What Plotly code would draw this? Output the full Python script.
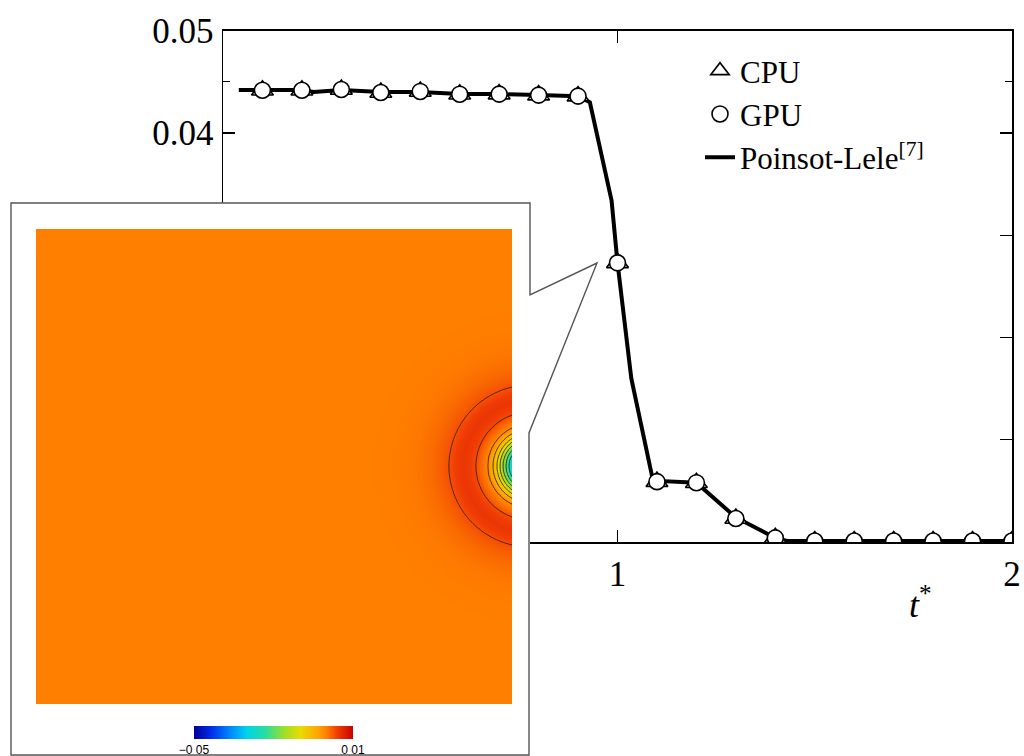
import numpy as np
import plotly.graph_objects as go

# ---------------- main chart data ----------------
t_samples = [0.1, 0.2, 0.3, 0.4, 0.5, 0.6, 0.7, 0.8, 0.9, 1.0,
             1.1, 1.2, 1.3, 1.4, 1.5, 1.6, 1.7, 1.8, 1.9, 2.0]
cpu_values = [0.04418, 0.04418, 0.04425, 0.04396, 0.04406, 0.04379, 0.04380, 0.04370, 0.04360, 0.02730,
              0.00590, 0.00580, 0.00230, 0.00040, 0.00010, 0.00010, 0.00010, 0.00010, 0.00010, 0.00010]
gpu_values = [0.04418, 0.04418, 0.04425, 0.04396, 0.04406, 0.04379, 0.04380, 0.04370, 0.04360, 0.02730,
              0.00590, 0.00580, 0.00230, 0.00040, 0.00010, 0.00010, 0.00010, 0.00010, 0.00010, 0.00010]

t_ref = [0.04, 0.1, 0.2, 0.23, 0.3, 0.4, 0.5, 0.6, 0.7, 0.8, 0.9, 0.93, 0.985, 1.0,
         1.035, 1.09, 1.2, 1.3, 1.4, 1.43, 2.0]
ref_values = [0.0442, 0.0442, 0.0442, 0.0440, 0.0442, 0.0440, 0.0440, 0.0438, 0.0438, 0.0437, 0.0436, 0.0430,
              0.0334, 0.0273, 0.0160, 0.0060, 0.0058, 0.0024, 0.0004, 0.0001, 0.0001]

x_tick_vals = [0, 1, 2]
x_tick_text = ["0", "1", "2"]
y_tick_vals = [0.0, 0.01, 0.02, 0.03, 0.04, 0.05]
y_tick_text = ["0", "0.01", "0.02", "0.03", "0.04", "0.05"]
y_minor_vals = [0.045]

series_names = ["CPU", "GPU", "Poinsot-Lele<sup>[7]</sup>"]
x_title = "<i>t</i><sup>*</sup>"

# ---------------- inset field data (radial profile of the pulse) ----------------
pulse_center = (1.038, 0.501)
profile_r_px = [0, 10, 18, 21, 24, 27, 30, 33, 37, 42, 48, 54, 60, 67, 74, 81, 90, 100, 115, 140, 200, 760]
profile_val = [-0.046, -0.039, -0.029, -0.025, -0.021, -0.017, -0.013, -0.009, -0.005, -0.001, 0.001,
               0.003, 0.0042, 0.0048, 0.0042, 0.003, 0.002, 0.0012, 0.0005, 0.0001, 0.0, 0.0]
inset_px = 476.0
field_min, field_max = -0.05, 0.01
contour_start, contour_end, contour_step = -0.045, 0.003, 0.004
cbar_tick_vals = [-0.05, 0.01]
cbar_tick_text = ["\u22120 05", "0 01"]

jet_like = [
    [0.0, "rgb(0,0,150)"],
    [0.1, "rgb(0,40,230)"],
    [0.22, "rgb(0,130,255)"],
    [0.33, "rgb(0,210,235)"],
    [0.45, "rgb(40,222,160)"],
    [0.57, "rgb(160,222,40)"],
    [0.67, "rgb(232,220,0)"],
    [0.78, "rgb(255,165,0)"],
    [0.833, "rgb(255,128,0)"],
    [0.9, "rgb(240,62,5)"],
    [1.0, "rgb(200,0,0)"],
]

grid_x = np.linspace(0, 1, 301)
grid_y = np.linspace(0, 1, 301)
GX, GY = np.meshgrid(grid_x, grid_y)
R = np.hypot(GX - pulse_center[0], GY - pulse_center[1])
field = np.interp(R, np.array(profile_r_px) / inset_px, profile_val)

W, H = 1024, 756


def px(x):
    return x / W


def py(y):
    return 1 - y / H


SERIF = "Liberation Serif"

fig = go.Figure()

# main plot traces (xy)
fig.add_trace(go.Scatter(x=t_ref, y=ref_values, mode="lines", name=series_names[2],
                         line=dict(color="black", width=4), legendrank=3))
fig.add_trace(go.Scatter(x=t_samples, y=cpu_values, mode="markers", name=series_names[0],
                         marker=dict(symbol="triangle-up", size=19, color="white",
                                     line=dict(color="black", width=1.6)), legendrank=1))
fig.add_trace(go.Scatter(x=t_samples, y=gpu_values, mode="markers", name=series_names[1],
                         marker=dict(symbol="circle", size=16, color="white",
                                     line=dict(color="black", width=1.6)), legendrank=2))

# inset white box (x2y2) - empty placeholder trace to create the subplot
fig.add_trace(go.Scatter(x=[], y=[], xaxis="x2", yaxis="y2", showlegend=False, hoverinfo="skip"))

# inset field (x3y3)
fig.add_trace(go.Heatmap(x=grid_x, y=grid_y, z=field, xaxis="x3", yaxis="y3",
                         colorscale=jet_like, zmin=field_min, zmax=field_max, zsmooth="best",
                         hoverinfo="skip",
                         colorbar=dict(orientation="h", x=px((194 + 353) / 2), xanchor="center",
                                       y=py(726), yanchor="top", len=159, lenmode="pixels",
                                       thickness=13, xpad=0, ypad=0, outlinewidth=0,
                                       tickvals=cbar_tick_vals, ticktext=cbar_tick_text,
                                       ticks="", tickfont=dict(family="Liberation Sans", size=12,
                                                               color="black"))))
fig.add_trace(go.Contour(x=grid_x, y=grid_y, z=field, xaxis="x3", yaxis="y3",
                         contours=dict(start=contour_start, end=contour_end, size=contour_step,
                                       coloring="none"),
                         line=dict(color="rgba(45,20,10,0.9)", width=0.9),
                         showscale=False, hoverinfo="skip", showlegend=False))

axis_common = dict(showgrid=False, zeroline=False, showline=True, linecolor="black", linewidth=1.5,
                   ticks="inside", ticklen=12, tickwidth=1.3, tickcolor="black", mirror="ticks",
                   automargin=False,
                   tickfont=dict(family=SERIF, size=35, color="black"))
hidden_axis = dict(range=[0, 1], visible=False, automargin=False)

fig.update_layout(
    width=W, height=H,
    margin=dict(l=0, r=0, t=0, b=0, pad=0, autoexpand=False),
    paper_bgcolor="white", plot_bgcolor="white",
    showlegend=True,
    hovermode=False,
    xaxis=dict(domain=[px(223), px(1012)], range=[0, 2], tickvals=x_tick_vals, ticktext=x_tick_text,
               ticklabelstandoff=0, anchor="y", **axis_common),
    yaxis=dict(domain=[py(542), py(30.7)], range=[0, 0.05], tickvals=y_tick_vals, ticktext=y_tick_text,
               ticklabelstandoff=1, anchor="x",
               minor=dict(tickvals=y_minor_vals, ticks="inside", ticklen=7, tickcolor="black"),
               **axis_common),
    xaxis2=dict(domain=[px(11), px(530)], anchor="y2", **hidden_axis),
    yaxis2=dict(domain=[py(755), py(203)], anchor="x2", **hidden_axis),
    xaxis3=dict(domain=[px(36), px(512)], anchor="y3", **hidden_axis),
    yaxis3=dict(domain=[py(704), py(229)], anchor="x3", **hidden_axis),
    legend=dict(x=px(700), y=py(44), xanchor="left", yanchor="top", bgcolor="rgba(0,0,0,0)",
                font=dict(family=SERIF, size=31, color="black"), tracegroupgap=0),
)

# x axis title
fig.add_annotation(text=x_title, xref="paper", yref="paper", x=px(920), y=py(602),
                   xanchor="center", yanchor="middle", showarrow=False,
                   font=dict(family=SERIF, size=36, color="black"))

# inset border with callout
path_pts = [(11, 203), (530, 203), (530, 295), (597, 263), (529, 433), (529, 755), (11, 755)]
path = "M " + " L ".join(f"{px(x):.5f},{py(y):.5f}" for x, y in path_pts) + " Z"
fig.add_shape(type="path", path=path, xref="paper", yref="paper",
              line=dict(color="#555555", width=1.4), fillcolor="rgba(0,0,0,0)", layer="above")

fig.write_html("out.html", config={"displayModeBar": False, "staticPlot": True},
               post_script="document.body.style.margin='0px';document.body.style.overflow='hidden';")
